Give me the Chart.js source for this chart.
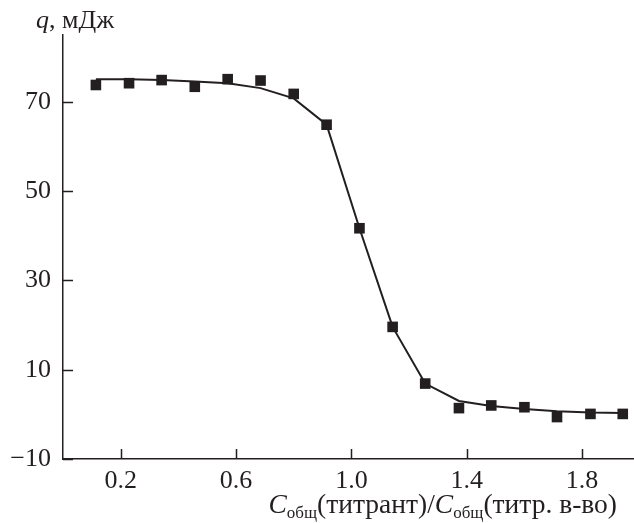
<!DOCTYPE html>
<html>
<head>
<meta charset="utf-8">
<script src="https://cdn.jsdelivr.net/npm/chart.js@4/dist/chart.umd.min.js"></script>
<style>
html,body{margin:0;padding:0;background:#fff;}
#wrap{width:634px;height:523px;position:relative;}
</style>
</head>
<body>
<div id="wrap"><canvas id="c" width="634" height="523"></canvas></div>
<script>
// ---- data ----
const ratioX = [0.114, 0.229, 0.342, 0.457, 0.571, 0.685, 0.800, 0.914, 1.028, 1.143, 1.256, 1.373, 1.485, 1.600, 1.713, 1.829, 1.941];
const measuredQ = [73.8, 74.2, 74.9, 73.4, 75.1, 74.8, 71.8, 64.9, 41.7, 19.6, 6.9, 1.4, 2.0, 1.6, -0.6, 0.1, 0.1];
const fittedQ = [75.1, 75.1, 74.9, 74.6, 74.2, 73.1, 70.8, 64.9, 41.7, 19.6, 6.9, 3.0, 1.9, 1.2, 0.7, 0.4, 0.3];
const xTickValues = [0.2, 0.6, 1.0, 1.4, 1.8];
const yTickValues = [-10, 10, 30, 50, 70];

const INK = '#231f20';
const SERIF = '"Liberation Serif", "Times New Roman", serif';

const toPts = (xs, ys) => xs.map((x, i) => ({x: x, y: ys[i]}));

const inwardTicks = {
  id: 'inwardTicks',
  afterDraw(chart) {
    const ctx = chart.ctx;
    const xs = chart.scales.x, ys = chart.scales.y;
    const a = chart.chartArea;
    ctx.save();
    ctx.strokeStyle = INK;
    ctx.lineWidth = 1.5;
    ctx.beginPath();
    xTickValues.forEach(v => {
      const px = Math.round(xs.getPixelForValue(v)) + 0.5;
      ctx.moveTo(px, a.bottom); ctx.lineTo(px, a.bottom - 10);
    });
    yTickValues.forEach(v => {
      const py = Math.round(ys.getPixelForValue(v)) + 0.5;
      ctx.moveTo(a.left, py); ctx.lineTo(a.left + 10, py);
    });
    ctx.stroke();

    // axis titles (rich text: italics and subscripts)
    ctx.fillStyle = INK;
    ctx.textBaseline = 'alphabetic';
    ctx.textAlign = 'left';
    // y title
    let x = 36;
    const yb = 28;
    ctx.font = 'italic 26px ' + SERIF;
    ctx.fillText('q', x, yb); x += ctx.measureText('q').width;
    ctx.font = '26px ' + SERIF;
    ctx.fillText(', мДж', x, yb);

    // x title
    const parts = [
      {t: 'C', f: 'italic 27.5px ' + SERIF, dy: 0},
      {t: 'общ', f: '17px ' + SERIF, dy: 5},
      {t: '(титрант)/', f: '27.5px ' + SERIF, dy: 0},
      {t: 'C', f: 'italic 27.5px ' + SERIF, dy: 0},
      {t: 'общ', f: '17px ' + SERIF, dy: 5},
      {t: '(титр. в-во)', f: '27.5px ' + SERIF, dy: 0}
    ];
    let total = 0;
    parts.forEach(p => { ctx.font = p.f; p.w = ctx.measureText(p.t).width; total += p.w; });
    x = 617 - total;
    const xb = 513;
    parts.forEach(p => { ctx.font = p.f; ctx.fillText(p.t, x, xb + p.dy); x += p.w; });
    ctx.restore();
  }
};

new Chart(document.getElementById('c'), {
  type: 'scatter',
  data: {
    datasets: [
      {
        label: 'fit',
        data: toPts(ratioX, fittedQ),
        showLine: true,
        borderColor: INK,
        borderWidth: 2,
        pointRadius: 0,
        tension: 0,
        clip: false
      },
      {
        label: 'measured',
        data: toPts(ratioX, measuredQ),
        showLine: false,
        pointStyle: 'rect',
        pointRadius: 7.5,
        pointBackgroundColor: INK,
        pointBorderWidth: 0,
        clip: false
      }
    ]
  },
  options: {
    responsive: false,
    animation: false,
    devicePixelRatio: 1,
    layout: {autoPadding: false, padding: {top: 35, right: 0, left: 0, bottom: 0}},
    plugins: {legend: {display: false}, tooltip: {enabled: false}},
    scales: {
      x: {
        type: 'linear',
        min: 0,
        max: 1.98,
        grid: {display: false, drawTicks: false},
        border: {display: true, color: INK, width: 1.5},
        afterBuildTicks(s) { s.ticks = xTickValues.map(v => ({value: v})); },
        afterFit(s) { s.height = 64; },
        ticks: {
          color: INK,
          padding: 7,
          maxRotation: 0,
          font: {family: SERIF, size: 26},
          callback: v => v.toFixed(1)
        }
      },
      y: {
        type: 'linear',
        min: -10,
        max: 85,
        grid: {display: false, drawTicks: false},
        border: {display: true, color: INK, width: 1.5},
        afterBuildTicks(s) { s.ticks = yTickValues.map(v => ({value: v})); },
        afterFit(s) { s.width = 63; },
        ticks: {
          color: INK,
          padding: 12,
          font: {family: SERIF, size: 26},
          callback: v => v < 0 ? '\u2212' + Math.abs(v) : String(v)
        }
      }
    }
  },
  plugins: [inwardTicks]
});
</script>
</body>
</html>
